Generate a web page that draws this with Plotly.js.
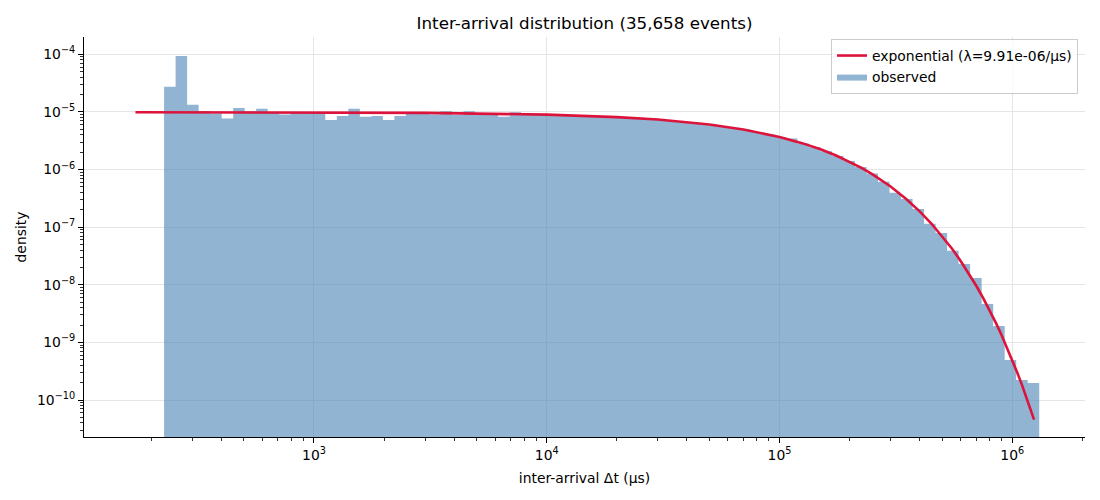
<!DOCTYPE html>
<html>
<head>
<meta charset="utf-8">
<script src="https://cdn.plot.ly/plotly-3.0.1.min.js"></script>
<style>html,body{margin:0;padding:0;background:#fff}#chart{width:1100px;height:500px}</style>
</head>
<body>
<div id="chart"></div>
<script>
// ---- data ----
const binFirstEdge = 227.0;
const binLastEdge = 1.305e6;
const binCount = 76;

const observed = [
  2.72e-5, 9.35e-5, 1.33e-5, 1.04e-5, 9.35e-6, 7.65e-6, 1.17e-5, 1.03e-5, 1.13e-5, 1.00e-5,
  9.0e-6, 9.9e-6, 9.9e-6, 9.9e-6, 7.27e-6, 8.45e-6, 1.13e-5, 8.2e-6, 8.5e-6, 7.27e-6,
  8.5e-6, 9.35e-6, 9.35e-6, 9.0e-6, 1.03e-5, 8.8e-6, 1.03e-5, 9.4e-6, 9.4e-6, 8.2e-6,
  9.9e-6, 9.14e-6, 9.05e-6, 8.95e-6, 8.84e-6, 8.72e-6, 8.58e-6, 8.44e-6, 8.27e-6, 8.10e-6,
  7.90e-6, 7.69e-6, 7.45e-6, 7.20e-6, 6.93e-6, 6.64e-6, 6.32e-6, 5.99e-6, 5.64e-6, 5.27e-6,
  4.88e-6, 4.48e-6, 4.07e-6, 3.66e-6, 3.45e-6, 2.83e-6, 2.44e-6, 2.08e-6, 1.72e-6, 1.41e-6,
  1.11e-6, 8.5e-7, 6.15e-7, 3.97e-7, 3.09e-7, 2.07e-7, 1.15e-7, 7.9e-8, 3.88e-8, 2.30e-8,
  1.31e-8, 4.64e-9, 1.93e-9, 4.95e-10, 2.22e-10, 1.97e-10
];

const fitX = [171, 300, 1000, 3000, 1e4, 1.5e4, 2e4, 3e4, 4e4, 5e4, 7e4, 1e5, 1.25e5, 1.5e5, 1.75e5,
  2e5, 2.25e5, 2.5e5, 2.75e5, 3e5, 3.5e5, 4e5, 4.5e5, 5e5, 5.5e5, 6e5, 6.5e5, 7e5, 7.5e5, 8e5,
  8.5e5, 9e5, 9.5e5, 1e6, 1.05e6, 1.1e6, 1.15e6, 1.2e6, 1.24e6];
const fitY = [9.893e-6, 9.881e-6, 9.812e-6, 9.620e-6, 8.975e-6, 8.541e-6, 8.128e-6, 7.361e-6, 6.667e-6, 6.038e-6,
  4.952e-6, 3.678e-6, 2.871e-6, 2.241e-6, 1.749e-6, 1.366e-6, 1.066e-6, 8.32e-7, 6.49e-7, 5.07e-7,
  3.09e-7, 1.882e-7, 1.146e-7, 6.98e-8, 4.26e-8, 2.59e-8, 1.58e-8, 9.62e-9, 5.86e-9, 3.57e-9,
  2.18e-9, 1.33e-9, 8.08e-10, 4.92e-10, 3.00e-10, 1.83e-10, 1.11e-10, 6.78e-11, 4.57e-11];

const xTickVals = [1e3, 1e4, 1e5, 1e6];
const xTickText = ['10<sup>3</sup>', '10<sup>4</sup>', '10<sup>5</sup>', '10<sup>6</sup>'];
const yTickVals = [1e-10, 1e-9, 1e-8, 1e-7, 1e-6, 1e-5, 1e-4];
const yTickText = ['10<sup>−10</sup>', '10<sup>−9</sup>', '10<sup>−8</sup>', '10<sup>−7</sup>',
                   '10<sup>−6</sup>', '10<sup>−5</sup>', '10<sup>−4</sup>'];

const fitLabel = 'exponential (λ=9.91e-06/μs)';
const obsLabel = 'observed';
const titleText = 'Inter-arrival distribution (35,658 events)';
const xLabel = 'inter-arrival Δt (μs)';
const yLabel = 'density';

// ---- build histogram outline ----
const l0 = Math.log10(binFirstEdge), l1 = Math.log10(binLastEdge);
const edges = [];
for (let i = 0; i <= binCount; i++) edges.push(Math.pow(10, l0 + (l1 - l0) * i / binCount));
const hx = [], hy = [];
const floorY = 1e-13;
hx.push(edges[0]); hy.push(floorY);
for (let i = 0; i < binCount; i++) {
  hx.push(edges[i]); hy.push(observed[i]);
  hx.push(edges[i + 1]); hy.push(observed[i]);
}
hx.push(edges[binCount]); hy.push(floorY);

const font = 'DejaVu Sans, sans-serif';

const traces = [
  {
    x: hx, y: hy, type: 'scatter', mode: 'lines', fill: 'toself',
    fillcolor: 'rgba(70,130,180,0.6)', line: {width: 0, color: 'rgba(70,130,180,0.6)'},
    name: obsLabel, hoverinfo: 'skip'
  },
  {
    x: fitX, y: fitY, type: 'scatter', mode: 'lines',
    line: {color: '#dc143c', width: 2.6}, name: fitLabel
  }
];

const axisCommon = {
  type: 'log',
  showline: true, linecolor: '#000', linewidth: 1, mirror: false,
  ticks: 'outside', ticklen: 5, tickwidth: 1, tickcolor: '#000',
  showgrid: true, gridcolor: '#e5e5e5', gridwidth: 1,
  zeroline: false,
  tickmode: 'array',
  tickfont: {family: font, size: 13.9, color: '#000'},
  minor: {ticks: 'outside', ticklen: 2.8, tickwidth: 0.8, tickcolor: '#000', dtick: 'D1', showgrid: false}
};

const layout = {
  width: 1100, height: 500,
  margin: {l: 84, r: 15, t: 37, b: 63},
  paper_bgcolor: '#fff', plot_bgcolor: '#fff',
  font: {family: font, color: '#000'},
  title: {text: titleText, font: {family: font, size: 16.7, color: '#000'},
          x: 0.5, xanchor: 'center', xref: 'paper', y: 0.954, yref: 'container', yanchor: 'middle'},
  xaxis: Object.assign({}, axisCommon, {
    range: [2.012, 6.3123], tickvals: xTickVals, ticktext: xTickText,
    title: {text: xLabel, font: {family: font, size: 13.9, color: '#000'}, standoff: 11}
  }),
  yaxis: Object.assign({}, axisCommon, {
    range: [-10.642, -3.700], tickvals: yTickVals, ticktext: yTickText,
    title: {text: yLabel, font: {family: font, size: 13.9, color: '#000'}, standoff: 7}
  }),
  showlegend: true,
  legend: {
    x: 0.993, y: 0.995, xanchor: 'right', yanchor: 'top',
    bgcolor: 'rgba(255,255,255,0.8)', bordercolor: '#cccccc', borderwidth: 1,
    font: {family: font, size: 13.9, color: '#000'},
    traceorder: 'reversed', tracegroupgap: 0
  }
};

Plotly.newPlot('chart', traces, layout, {displayModeBar: false, staticPlot: true});
</script>
</body>
</html>
